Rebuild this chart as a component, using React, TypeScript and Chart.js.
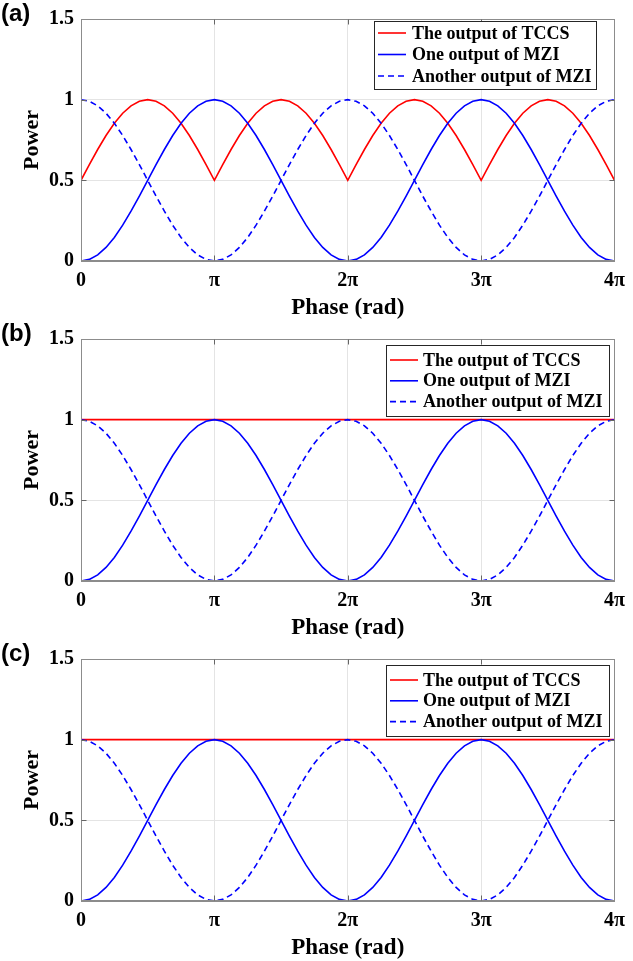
import React, { useEffect, useRef } from 'react';
import { Chart, registerables } from 'chart.js';

Chart.register(...registerables);

// ---- data (x in units of π) ----
const PHASE = [
  0, 0.0625, 0.125, 0.1875, 0.25, 0.3125, 0.375, 0.4375, 0.5, 0.5625, 0.625, 0.6875, 0.75, 0.8125, 0.875, 0.9375,
  1, 1.0625, 1.125, 1.1875, 1.25, 1.3125, 1.375, 1.4375, 1.5, 1.5625, 1.625, 1.6875, 1.75, 1.8125, 1.875, 1.9375,
  2, 2.0625, 2.125, 2.1875, 2.25, 2.3125, 2.375, 2.4375, 2.5, 2.5625, 2.625, 2.6875, 2.75, 2.8125, 2.875, 2.9375,
  3, 3.0625, 3.125, 3.1875, 3.25, 3.3125, 3.375, 3.4375, 3.5, 3.5625, 3.625, 3.6875, 3.75, 3.8125, 3.875, 3.9375,
  4,
];

const MZI_ONE = [
  0, 0.01, 0.038, 0.084, 0.146, 0.222, 0.309, 0.402, 0.5, 0.598, 0.691, 0.778, 0.854, 0.916, 0.962, 0.99,
  1, 0.99, 0.962, 0.916, 0.854, 0.778, 0.691, 0.598, 0.5, 0.402, 0.309, 0.222, 0.146, 0.084, 0.038, 0.01,
  0, 0.01, 0.038, 0.084, 0.146, 0.222, 0.309, 0.402, 0.5, 0.598, 0.691, 0.778, 0.854, 0.916, 0.962, 0.99,
  1, 0.99, 0.962, 0.916, 0.854, 0.778, 0.691, 0.598, 0.5, 0.402, 0.309, 0.222, 0.146, 0.084, 0.038, 0.01,
  0,
];

const MZI_OTHER = [
  1, 0.99, 0.962, 0.916, 0.854, 0.778, 0.691, 0.598, 0.5, 0.402, 0.309, 0.222, 0.146, 0.084, 0.038, 0.01,
  0, 0.01, 0.038, 0.084, 0.146, 0.222, 0.309, 0.402, 0.5, 0.598, 0.691, 0.778, 0.854, 0.916, 0.962, 0.99,
  1, 0.99, 0.962, 0.916, 0.854, 0.778, 0.691, 0.598, 0.5, 0.402, 0.309, 0.222, 0.146, 0.084, 0.038, 0.01,
  0, 0.01, 0.038, 0.084, 0.146, 0.222, 0.309, 0.402, 0.5, 0.598, 0.691, 0.778, 0.854, 0.916, 0.962, 0.99,
  1,
];

const TCCS_A = [
  0.5, 0.598, 0.691, 0.778, 0.854, 0.916, 0.962, 0.99, 1, 0.99, 0.962, 0.916, 0.854, 0.778, 0.691, 0.598,
  0.5, 0.598, 0.691, 0.778, 0.854, 0.916, 0.962, 0.99, 1, 0.99, 0.962, 0.916, 0.854, 0.778, 0.691, 0.598,
  0.5, 0.598, 0.691, 0.778, 0.854, 0.916, 0.962, 0.99, 1, 0.99, 0.962, 0.916, 0.854, 0.778, 0.691, 0.598,
  0.5, 0.598, 0.691, 0.778, 0.854, 0.916, 0.962, 0.99, 1, 0.99, 0.962, 0.916, 0.854, 0.778, 0.691, 0.598,
  0.5,
];

const TCCS_FLAT_PHASE = [0, 4];
const TCCS_FLAT = [1, 1];

const SERIES_LABELS = ['The output of TCCS', 'One output of MZI', 'Another output of MZI'];
const X_TICK_VALUES = [0, 1, 2, 3, 4];
const X_TICK_LABELS = ['0', 'π', '2π', '3π', '4π'];
const Y_TICK_VALUES = [0, 0.5, 1, 1.5];
const Y_TICK_LABELS = ['0', '0.5', '1', '1.5'];
const X_TITLE = 'Phase (rad)';
const Y_TITLE = 'Power';
const PANEL_TAGS = ['(a)', '(b)', '(c)'];

const SERIF = "'Liberation Serif', 'Times New Roman', serif";
const AXIS_GRAY = '#8c8c8c';

function lookup(values: number[], labels: string[], v: number) {
  const i = values.findIndex((t) => Math.abs(t - v) < 1e-6);
  return i >= 0 ? labels[i] : '';
}

const framePlugin = {
  id: 'frame',
  afterDraw(chart: any) {
    const { ctx, chartArea: a, scales } = chart;
    const L = Math.round(a.left) + 0.5;
    const R = Math.round(a.right) - 0.5;
    const T = Math.round(a.top) + 0.5;
    const B = Math.round(a.bottom) - 0.5;
    ctx.save();
    ctx.strokeStyle = AXIS_GRAY;
    ctx.lineWidth = 1;
    ctx.strokeRect(L, T, R - L, B - T);
    ctx.strokeStyle = '#666';
    ctx.beginPath();
    for (const v of X_TICK_VALUES.slice(1, -1)) {
      const x = Math.round(scales.x.getPixelForValue(v)) + 0.5;
      ctx.moveTo(x, T);
      ctx.lineTo(x, T + 5);
      ctx.moveTo(x, B);
      ctx.lineTo(x, B - 5);
    }
    for (const v of Y_TICK_VALUES.slice(1, -1)) {
      const y = Math.round(scales.y.getPixelForValue(v)) + 0.5;
      ctx.moveTo(L, y);
      ctx.lineTo(L + 5, y);
      ctx.moveTo(R, y);
      ctx.lineTo(R - 5, y);
    }
    ctx.stroke();
    ctx.restore();
  },
};

const boxLegendPlugin = {
  id: 'boxLegend',
  afterDraw(chart: any, _args: any, opts: any) {
    const { ctx } = chart;
    const { left, top, width, height, firstRow, rowGap, sampleX, sampleLen, textX } = opts;
    ctx.save();
    ctx.fillStyle = '#ffffff';
    ctx.fillRect(left, top, width, height);
    ctx.strokeStyle = '#262626';
    ctx.lineWidth = 1;
    ctx.strokeRect(left + 0.5, top + 0.5, width, height);
    chart.data.datasets.forEach((ds: any, i: number) => {
      const y = top + firstRow + i * rowGap;
      ctx.beginPath();
      ctx.strokeStyle = ds.borderColor;
      ctx.lineWidth = ds.borderWidth;
      ctx.setLineDash(ds.borderDash || []);
      ctx.moveTo(sampleX, y);
      ctx.lineTo(sampleX + sampleLen, y);
      ctx.stroke();
      ctx.setLineDash([]);
      ctx.fillStyle = '#000';
      ctx.font = `bold 18px ${SERIF}`;
      ctx.textBaseline = 'middle';
      ctx.textAlign = 'left';
      ctx.fillText(ds.label, textX, y + 1);
    });
    ctx.restore();
  },
};

type PanelProps = {
  tag: string;
  tccsX: number[];
  tccsY: number[];
  legend: any;
};

function Panel({ tag, tccsX, tccsY, legend }: PanelProps) {
  const ref = useRef<HTMLCanvasElement>(null);
  useEffect(() => {
    const chart = new Chart(ref.current as HTMLCanvasElement, {
      type: 'line',
      data: {
        datasets: [
          {
            label: SERIES_LABELS[0],
            data: tccsX.map((x, i) => ({ x, y: tccsY[i] })),
            borderColor: '#ff0000',
            borderWidth: 1.6,
            pointRadius: 0,
            tension: 0,
            fill: false,
            order: 3,
          },
          {
            label: SERIES_LABELS[1],
            data: PHASE.map((x, i) => ({ x, y: MZI_ONE[i] })),
            borderColor: '#0000ff',
            borderWidth: 1.6,
            pointRadius: 0,
            tension: 0,
            fill: false,
            order: 2,
          },
          {
            label: SERIES_LABELS[2],
            data: PHASE.map((x, i) => ({ x, y: MZI_OTHER[i] })),
            borderColor: '#0000ff',
            borderWidth: 1.6,
            borderDash: [6, 4],
            pointRadius: 0,
            tension: 0,
            fill: false,
            order: 1,
          },
        ],
      } as any,
      options: {
        animation: false,
        responsive: false,
        maintainAspectRatio: false,
        events: [],
        layout: { padding: { left: 0, right: 13, top: 15, bottom: 0 } },
        plugins: {
          legend: { display: false },
          tooltip: { enabled: false },
          boxLegend: legend,
        } as any,
        scales: {
          x: {
            type: 'linear',
            min: 0,
            max: 4,
            afterFit: (s: any) => {
              s.height = 59;
            },
            ticks: {
              stepSize: 1,
              autoSkip: false,
              maxRotation: 0,
              padding: 8,
              color: '#000',
              font: { family: SERIF, size: 20, weight: 'bold' },
              callback: (v: any) => lookup(X_TICK_VALUES, X_TICK_LABELS, Number(v)),
            },
            grid: { color: '#e4e4e4', drawTicks: false, lineWidth: 1 },
            border: { color: AXIS_GRAY, width: 1 },
            title: {
              display: true,
              text: X_TITLE,
              color: '#000',
              font: { family: SERIF, size: 23, weight: 'bold', lineHeight: 1 },
              padding: { top: 0, bottom: 0 },
            },
          },
          y: {
            type: 'linear',
            min: 0,
            max: 1.5,
            afterFit: (s: any) => {
              s.width = 81;
            },
            ticks: {
              stepSize: 0.5,
              padding: 7,
              color: '#000',
              font: { family: SERIF, size: 20, weight: 'bold' },
              callback: (v: any) => lookup(Y_TICK_VALUES, Y_TICK_LABELS, Number(v)),
            },
            grid: { color: '#e4e4e4', drawTicks: false, lineWidth: 1 },
            border: { color: AXIS_GRAY, width: 1 },
            title: {
              display: true,
              text: Y_TITLE,
              color: '#000',
              font: { family: SERIF, size: 22, weight: 'bold', lineHeight: 1 },
              padding: { top: 21, bottom: 0 },
            },
          },
        },
      } as any,
      plugins: [framePlugin, boxLegendPlugin],
    });
    return () => chart.destroy();
  }, []);

  return (
    <div style={{ position: 'relative', width: 633, height: 320 }}>
      <canvas ref={ref} width={633} height={320} style={{ display: 'block', width: 633, height: 320 }} />
      <div
        style={{
          position: 'absolute',
          left: 1,
          top: 1,
          font: "bold 24px 'Liberation Sans', Arial, sans-serif",
          lineHeight: '24px',
          color: '#000',
        }}
      >
        {tag}
      </div>
    </div>
  );
}

const LEGEND_A = { left: 374, top: 21, width: 222, height: 68, firstRow: 12, rowGap: 21.5, sampleX: 378, sampleLen: 28, textX: 412 };
const LEGEND_BC = { left: 386, top: 25, width: 223, height: 71, firstRow: 15, rowGap: 20.8, sampleX: 390, sampleLen: 28, textX: 423 };

export default function App() {
  return (
    <div style={{ position: 'absolute', left: 0, top: 0, width: 633, height: 961, background: '#fff' }}>
      <Panel tag={PANEL_TAGS[0]} tccsX={PHASE} tccsY={TCCS_A} legend={LEGEND_A} />
      <Panel tag={PANEL_TAGS[1]} tccsX={TCCS_FLAT_PHASE} tccsY={TCCS_FLAT} legend={LEGEND_BC} />
      <Panel tag={PANEL_TAGS[2]} tccsX={TCCS_FLAT_PHASE} tccsY={TCCS_FLAT} legend={LEGEND_BC} />
    </div>
  );
}
